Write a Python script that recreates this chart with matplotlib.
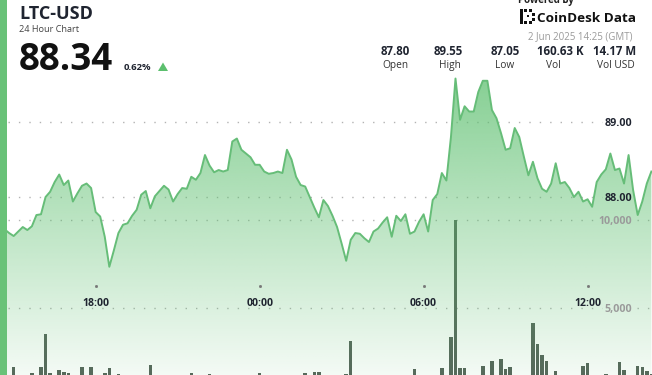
import numpy as np
import matplotlib
matplotlib.use('Agg')
import matplotlib.pyplot as plt
from matplotlib.patches import Rectangle, Polygon
from matplotlib.transforms import blended_transform_factory

# 10 minute LTC-USD closes, starting 14:30 GMT
prices = [
    87.60, 87.57, 87.52, 87.48, 87.54, 87.60, 87.56, 87.61, 87.76, 87.77, 88.00, 88.07,
    88.20, 88.30, 88.16, 88.22, 87.94, 88.05, 88.15, 88.18, 88.12, 87.80, 87.74, 87.47,
    87.07, 87.29, 87.52, 87.63, 87.65, 87.75, 87.83, 88.03, 88.08, 87.85, 88.01, 88.08,
    88.15, 88.10, 87.94, 88.04, 88.12, 88.11, 88.27, 88.23, 88.32, 88.56, 88.42, 88.33,
    88.36, 88.34, 88.36, 88.74, 88.78, 88.63, 88.58, 88.53, 88.43, 88.43, 88.34, 88.31,
    88.32, 88.34, 88.32, 88.63, 88.50, 88.27, 88.16, 88.14, 88.00, 87.86, 87.73, 87.96,
    87.88, 87.75, 87.60, 87.38, 87.15, 87.43, 87.52, 87.51, 87.45, 87.40, 87.54, 87.58,
    87.66, 87.73, 87.47, 87.75, 87.68, 87.77, 87.51, 87.54, 87.67, 87.77, 87.54, 87.96,
    88.04, 88.32, 88.22, 88.80, 89.58, 89.03, 89.21, 89.14, 89.14, 89.40, 89.55, 89.55,
    89.16, 89.05, 88.85, 88.63, 88.65, 88.92, 88.80, 88.54, 88.29, 88.47, 88.25, 88.11,
    88.07, 88.18, 88.45, 88.18, 88.20, 88.12, 88.00, 88.07, 87.94, 87.97, 87.87, 88.20,
    88.30, 88.37, 88.58, 88.36, 88.38, 88.18, 88.56, 88.09, 87.76, 87.94, 88.18, 88.34,
]
volumes = [
    800, 800, 800, 1660, 800, 800, 800, 1290, 800, 1630, 3520, 1290,
    800, 1480, 1380, 1320, 800, 800, 1630, 800, 1660, 800, 800, 1290,
    1590, 800, 1250, 800, 800, 800, 800, 800, 800, 1780, 800, 800,
    800, 800, 800, 800, 800, 800, 1290, 800, 800, 800, 1250, 800,
    800, 800, 800, 800, 800, 800, 800, 800, 800, 1290, 800, 800,
    800, 800, 800, 800, 800, 800, 800, 1290, 800, 1380, 1380, 800,
    800, 800, 800, 800, 1250, 3140, 800, 800, 800, 800, 800, 800,
    800, 800, 800, 800, 800, 800, 800, 1520, 800, 800, 800, 800,
    800, 1570, 800, 3370, 10000, 1570, 1570, 800, 800, 800, 1720, 800,
    1970, 800, 2100, 1520, 1630, 800, 800, 800, 800, 4130, 2940, 2350,
    1990, 800, 1400, 800, 800, 800, 800, 800, 1700, 1860, 800, 800,
    800, 1250, 800, 800, 1930, 1480, 800, 800, 1700, 1660, 1420, 1250,
]
start_hour = 14.5
tick_hours = [18, 24, 30, 36]
tick_labels = ['18:00', '00:00', '06:00', '12:00']
price_ticks = [89.0, 88.0]
vol_ticks = [10000, 5000]
stat_values = ['87.80', '89.55', '87.05', '160.63 K', '14.17 M']
stat_names = ['Open', 'High', 'Low', 'Vol', 'Vol USD']

plt.rcParams['font.family'] = ['Open Sans', 'DejaVu Sans']

W, H = 652, 375
GREEN = '#5cbf6e'
LINE = '#66bd78'
DARK = '#1f2430'

hours = start_hour + np.arange(len(prices)) / 6.0
x_lo, x_hi = start_hour, start_hour + 143.14 / 6.0
p_lo, p_hi = 85.627, 90.627
v_lo, v_hi = 1193, 22500


def fx(x):
    return x / W


def fy(y):
    return 1 - y / H


fig = plt.figure(figsize=(6.52, 3.75), dpi=100)
fig.patch.set_facecolor('white')

# volume axis (behind)
axv = fig.add_axes([0, 0, 1, 1], zorder=0)
axv.set_xlim(x_lo, x_hi)
axv.set_ylim(v_lo, v_hi)
axv.axis('off')
axv.bar(hours, volumes, width=0.128, color='#56645a', zorder=2)
for v in vol_ticks:
    axv.axhline(v, xmin=0.012, xmax=602 / W, color='#b3b3b3', lw=1.0,
                linestyle=(0, (1, 6.5)), zorder=1)
    axv.axhline(v, xmin=637 / W, xmax=1, color='#b3b3b3', lw=1.0,
                linestyle=(0, (1, 6.5)), zorder=1)

# price axis (front)
ax = fig.add_axes([0, 0, 1, 1], zorder=1)
ax.patch.set_visible(False)
ax.set_xlim(x_lo, x_hi)
ax.set_ylim(p_lo, p_hi)
ax.axis('off')

for p in price_ticks:
    ax.axhline(p, xmin=0.012, xmax=602 / W, color='#b3b3b3', lw=1.0,
               linestyle=(0, (1, 6.5)), zorder=1)

# gradient fill under the line
grad_top = 89.6
n = 256
alpha = np.linspace(0.07, 0.74, n)
rgba = np.zeros((n, 2, 4))
rgba[..., 0] = 92 / 255
rgba[..., 1] = 191 / 255
rgba[..., 2] = 110 / 255
rgba[..., 3] = alpha[:, None]
im = ax.imshow(rgba, extent=[x_lo, x_hi, p_lo, grad_top], origin='lower',
               aspect='auto', zorder=2, interpolation='bilinear')
verts = [(hours[0], p_lo)] + list(zip(hours, prices)) + [(hours[-1], p_lo)]
clip = Polygon(verts, closed=True, facecolor='none', edgecolor='none')
ax.add_patch(clip)
im.set_clip_path(clip)
ax.set_xlim(x_lo, x_hi)
ax.set_ylim(p_lo, p_hi)

ax.plot(hours, prices, color=LINE, lw=1.4, zorder=3, solid_joinstyle='round')

# time ticks
tr = blended_transform_factory(ax.transData, ax.transAxes)
for h, lab in zip(tick_hours, tick_labels):
    ax.plot([h], [1 - 285.7 / H], marker='s', ms=1.0, color='#777777',
            transform=tr, zorder=4)
    ax.text(h, 1 - 305.7 / H, lab, transform=tr, ha='center', va='baseline',
            fontsize=7.6, fontweight='bold', color=DARK, zorder=4)

# right axis labels
for p in price_ticks:
    y = 197 - (p - 88.0) * 75
    fig.text(fx(632.5), fy(y + 4), f'{p:.2f}', ha='right', va='baseline',
             fontsize=7.7, fontweight='bold', color=DARK)
for v in vol_ticks:
    y = 396 - v / 56.82
    fig.text(fx(632.5), fy(y + 3.8), f'{v:,}', ha='right', va='baseline',
             fontsize=7.7, fontweight='bold', color='#9a9a9a')

# left accent bar
fig.add_artist(Rectangle((0, 0), fx(6.5), 1, transform=fig.transFigure,
                         facecolor='#69c278', edgecolor='none', zorder=5))

# header left
fig.text(fx(19.5), fy(19.3), 'LTC-USD', fontsize=13.0, fontweight='bold',
         color=DARK, va='baseline')
fig.text(fx(19), fy(31.7), '24 Hour Chart', fontsize=6.6, color='#444444',
         va='baseline')
fig.text(fx(18.5), fy(70), '88.34', fontsize=26.5, fontweight='bold',
         color='#111111', va='baseline')
fig.text(fx(124), fy(70), '0.62%', fontsize=6.8, fontweight='bold',
         color=DARK, va='baseline')
fig.add_artist(Polygon([(fx(158), fy(71)), (fx(168), fy(71)), (fx(163), fy(62.5))],
                       closed=True, transform=fig.transFigure,
                       facecolor=GREEN, edgecolor='none'))

# header right (top of "Powered by" is cut by the frame, as in the source)
fig.text(fx(546), fy(0.5), 'Powered by', fontsize=7, fontweight='bold',
         color='#222222', ha='center', va='center')
logo = [(520, 9, 3, 15), (524, 9, 3, 3), (529, 9, 3, 3), (532, 13, 3, 3),
        (527, 15, 2, 2), (532, 18, 3, 3), (524, 21, 3, 3), (529, 21, 3, 3)]
for lx, ly, lw_, lh in logo:
    fig.add_artist(Rectangle((fx(lx), fy(ly + lh)), lw_ / W, lh / H,
                             transform=fig.transFigure, facecolor='#111111',
                             edgecolor='none'))
fig.text(fx(537), fy(21.7), 'CoinDesk Data', fontsize=9.7, fontweight='bold',
         color='#111111', va='baseline')
fig.text(fx(633), fy(39), '2 Jun 2025 14:25 (GMT)', fontsize=7, color='#9a9a9a',
         ha='right', va='baseline')

val_x = [395, 448.3, 505, 560.2, 614.8]
name_x = [395, 450.3, 505, 553.3, 615.5]
for xv, xn, val, name in zip(val_x, name_x, stat_values, stat_names):
    fig.text(fx(xv), fy(55), val, fontsize=8.3, fontweight='bold', color=DARK,
             ha='center', va='baseline')
    fig.text(fx(xn), fy(68.3), name, fontsize=7.3, color='#333333',
             ha='center', va='baseline')

fig.savefig('out.png', dpi=100)
